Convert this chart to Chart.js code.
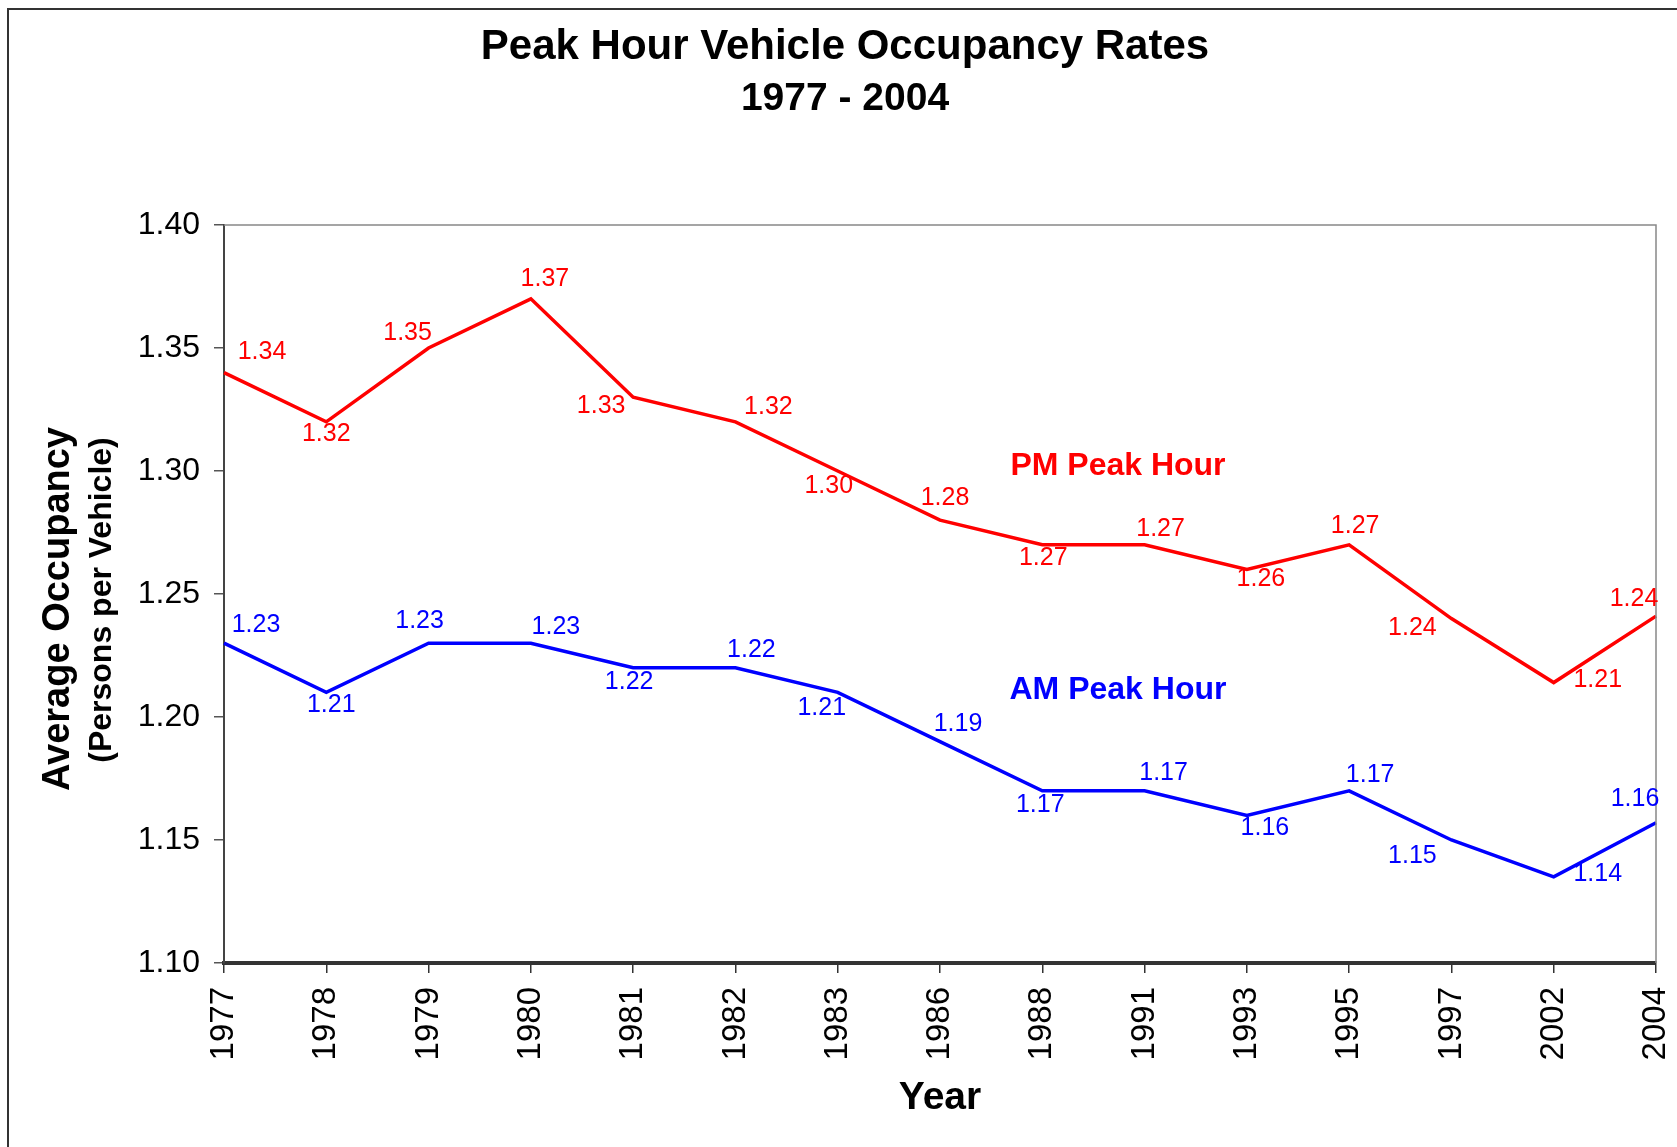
<!DOCTYPE html>
<html>
<head>
<meta charset="utf-8">
<script src="https://cdn.jsdelivr.net/npm/chart.js@4.4.0/dist/chart.umd.min.js"></script>
<style>
  html, body { margin: 0; padding: 0; background: #fff; }
  #wrap { width: 1677px; height: 1147px; position: relative; }
</style>
</head>
<body>
<div id="wrap"><canvas id="myChart" width="1677" height="1147"></canvas></div>
<script>
// data
var years = ['1977', '1978', '1979', '1980', '1981', '1982', '1983', '1986',
  '1988', '1991', '1993', '1995', '1997', '2002', '2004'];
var pmPeak = [1.34, 1.32, 1.35, 1.37, 1.33, 1.32, 1.30, 1.28, 1.27, 1.27, 1.26, 1.27, 1.24, 1.214, 1.241];
var amPeak = [1.23, 1.21, 1.23, 1.23, 1.22, 1.22, 1.21, 1.19, 1.17, 1.17, 1.16, 1.17, 1.15, 1.135, 1.157];
var yTicks = [1.10, 1.15, 1.20, 1.25, 1.30, 1.35, 1.40];

// where each value label sits relative to its point (px)
var pmLabelOffset = [[38,-20],[0,12],[-21,-15],[14,-20],[-32,9],[33,-15],[-9,15],[5,-22],
  [1,13],[16,-16],[14,10],[6,-19],[-39,10],[44,-2],[-22,-17]];
var amLabelOffset = [[32,-18],[5,13],[-9,-22],[25,-16],[-4,14],[16,-18],[-16,16],[18,-17],
  [-2,14],[19,-18],[18,13],[21,-16],[-39,16],[44,-3],[-21,-24]];

var FONT = '"Liberation Sans", Arial, sans-serif';

var extras = {
  id: 'extras',
  afterDraw: function(chart) {
    var ctx = chart.ctx;
    var a = chart.chartArea;
    var xs = chart.scales.x, ys = chart.scales.y;
    ctx.save();

    // outer frame
    ctx.strokeStyle = '#333';
    ctx.lineWidth = 2;
    ctx.beginPath();
    ctx.moveTo(8, 1147);
    ctx.lineTo(8, 9);
    ctx.lineTo(1677, 9);
    ctx.stroke();

    // plot top / right border
    ctx.strokeStyle = '#888';
    ctx.lineWidth = 1.5;
    ctx.beginPath();
    ctx.moveTo(a.left, a.top);
    ctx.lineTo(a.right, a.top);
    ctx.lineTo(a.right, a.bottom);
    ctx.stroke();

    // titles
    ctx.fillStyle = '#000';
    ctx.textAlign = 'center';
    ctx.textBaseline = 'middle';
    ctx.font = 'bold 42px ' + FONT;
    ctx.fillText('Peak Hour Vehicle Occupancy Rates', 845, 47);
    ctx.font = 'bold 39px ' + FONT;
    ctx.fillText('1977 - 2004', 845, 99);

    ctx.font = 'bold 39px ' + FONT;
    ctx.fillText('Year', 940, 1098);

    ctx.save();
    ctx.translate(59, 609);
    ctx.rotate(-Math.PI / 2);
    ctx.font = 'bold 38px ' + FONT;
    ctx.fillText('Average Occupancy', 0, 0);
    ctx.restore();
    ctx.save();
    ctx.translate(102, 600);
    ctx.rotate(-Math.PI / 2);
    ctx.font = 'bold 32px ' + FONT;
    ctx.fillText('(Persons per Vehicle)', 0, 0);
    ctx.restore();

    // series names
    ctx.font = 'bold 32px ' + FONT;
    ctx.fillStyle = '#ff0000';
    ctx.fillText('PM Peak Hour', xs.getPixelForValue(8.74), ys.getPixelForValue(1.302));
    ctx.fillStyle = '#0000ff';
    ctx.fillText('AM Peak Hour', xs.getPixelForValue(8.74), ys.getPixelForValue(1.211));

    // value labels
    ctx.font = '25px ' + FONT;
    var sets = [[pmPeak, pmLabelOffset, '#ff0000'], [amPeak, amLabelOffset, '#0000ff']];
    sets.forEach(function(s) {
      ctx.fillStyle = s[2];
      s[0].forEach(function(v, i) {
        var px = xs.getPixelForValue(i);
        var py = ys.getPixelForValue(v);
        ctx.fillText(v.toFixed(2), px + s[1][i][0], py + s[1][i][1]);
      });
    });
    ctx.restore();
  }
};

var ctx = document.getElementById('myChart').getContext('2d');
var myChart = new Chart(ctx, {
  type: 'line',
  data: {
    labels: years,
    datasets: [{
      label: 'PM Peak Hour',
      data: pmPeak,
      borderColor: '#ff0000',
      borderWidth: 3.5,
      pointRadius: 0,
      tension: 0
    }, {
      label: 'AM Peak Hour',
      data: amPeak,
      borderColor: '#0000ff',
      borderWidth: 3.5,
      pointRadius: 0,
      tension: 0
    }]
  },
  options: {
    responsive: false,
    animation: false,
    layout: { padding: { left: 0, top: 225, right: 21, bottom: 0 } },
    plugins: {
      legend: { display: false },
      tooltip: { enabled: false }
    },
    scales: {
      x: {
        offset: false,
        grid: { drawOnChartArea: false, tickLength: 10, color: '#333', lineWidth: 1.5 },
        border: { color: '#333', width: 4 },
        ticks: {
          font: { family: FONT, size: 33 },
          color: '#000',
          minRotation: 90,
          maxRotation: 90,
          padding: 14,
          autoSkip: false
        },
        afterFit: function(scale) {
          scale.height = 184;
          scale.paddingLeft = 0;
          scale.paddingRight = 0;
        }
      },
      y: {
        min: 1.10,
        max: 1.40,
        afterBuildTicks: function(scale) {
          scale.ticks = yTicks.map(function(v) { return { value: v }; });
        },
        grid: { drawOnChartArea: false, tickLength: 10, color: '#555', lineWidth: 1.5 },
        border: { color: '#444', width: 2 },
        ticks: {
          font: { family: FONT, size: 32 },
          color: '#000',
          padding: 14,
          callback: function(v) { return Number(v).toFixed(2); }
        },
        afterFit: function(scale) {
          scale.width = 224;
          scale.paddingTop = 0;
          scale.paddingBottom = 0;
        }
      }
    }
  },
  plugins: [extras]
});
</script>
</body>
</html>
